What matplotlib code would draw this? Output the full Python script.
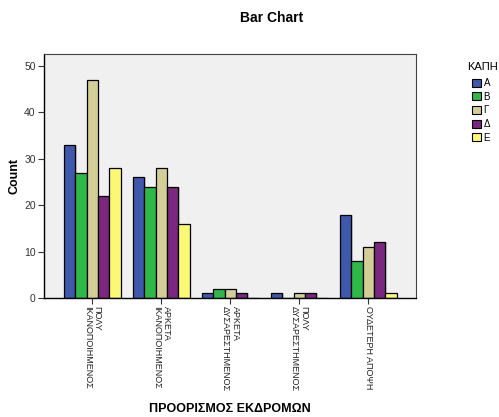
import matplotlib
matplotlib.use("Agg")
import matplotlib.pyplot as plt
import numpy as np
from matplotlib.patches import Patch

plt.rcParams['font.family'] = ['Liberation Sans', 'DejaVu Sans']

categories = ["ΠΟΛΥ\nΙΚΑΝΟΠΟΙΗΜΕΝΟΣ", "ΑΡΚΕΤΑ\nΙΚΑΝΟΠΟΙΗΜΕΝΟΣ",
              "ΑΡΚΕΤΑ\nΔΥΣΑΡΕΣΤΗΜΕΝΟΣ", "ΠΟΛΥ\nΔΥΣΑΡΕΣΤΗΜΕΝΟΣ",
              "ΟΥΔΕΤΕΡΗ ΑΠΟΨΗ"]
series_names = ["Α", "Β", "Γ", "Δ", "Ε"]
A = [33, 26, 1, 1, 18]
B = [27, 24, 2, 0, 8]
G = [47, 28, 2, 1, 11]
D = [22, 24, 1, 1, 12]
E = [28, 16, 0, 0, 1]
series = [A, B, G, D, E]
colors = ["#3E58AC", "#2EB848", "#D3CE97", "#7B277F", "#FBF873"]
yticks = [0, 10, 20, 30, 40, 50]

fig = plt.figure(figsize=(4.99, 4.17), dpi=100)
ax = fig.add_axes([44/499, 1-298/417, (416-44)/499, (298-54)/417])
ax.set_facecolor("#F0F0F0")

x = np.arange(len(categories))
w = 0.165
for i, (vals, c) in enumerate(zip(series, colors)):
    off = (i - 2) * w
    ax.bar(x + off + 0.02, vals, w, bottom=0, color="#888888", alpha=0.35,
           edgecolor="none", zorder=1)
    ax.bar(x + off, vals, w, color=c, edgecolor="black", linewidth=0.9, zorder=2)

ax.set_xlim(-0.70, 4.69)
ax.set_ylim(0, 52.6)
ax.set_yticks(yticks)
ax.set_yticklabels([str(t) for t in yticks], fontsize=7.5, color="#333333")
ax.set_xticks(x)
ax.set_xticklabels(categories, rotation=270, fontsize=6.5, ha="center",
                   va="top", multialignment="left", color="#222222",
                   linespacing=1.05)
ax.tick_params(axis="both", length=4, width=0.8, color="#333333", pad=2)

for s in ["left", "bottom"]:
    ax.spines[s].set_color("black")
    ax.spines[s].set_linewidth(1.0)
for s in ["top", "right"]:
    ax.spines[s].set_color("#444444")
    ax.spines[s].set_linewidth(0.8)

fig.text(272/499, 1-18/417, "Bar Chart", ha="center", va="center",
         fontsize=10, fontweight="bold")
fig.text(14/499, 1-176/417, "Count", ha="center", va="center",
         rotation=90, fontsize=9, fontweight="bold")
fig.text(230/499, 1-409/417, "ΠΡΟΟΡΙΣΜΟΣ ΕΚΔΡΟΜΩΝ", ha="center",
         va="center", fontsize=9, fontweight="bold")

fig.text(482/499, 1-67/417, "ΚΑΠΗ", ha="center", va="center", fontsize=8)
handles = [Patch(facecolor=c, edgecolor="black", linewidth=0.8) for c in colors]
leg = fig.legend(handles, series_names, loc="upper left",
                 bbox_to_anchor=(472/499, 1-78/417), frameon=False,
                 fontsize=7, handlelength=0.9,
                 handleheight=0.9, handletextpad=0.3, labelspacing=0.38,
                 borderaxespad=0, borderpad=0)

fig.savefig("out.png", dpi=100)
